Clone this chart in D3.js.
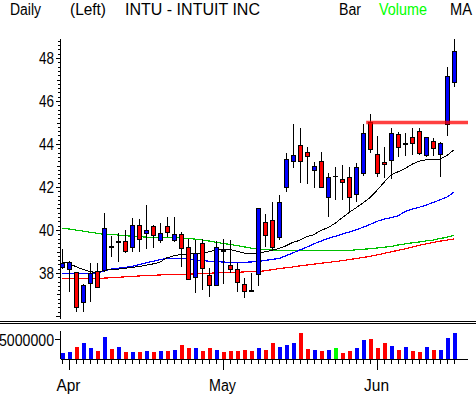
<!DOCTYPE html>
<html><head><meta charset="utf-8">
<script src="https://cdn.jsdelivr.net/npm/d3@7/dist/d3.min.js"></script>
<style>
html,body{margin:0;padding:0;background:#fff;}
svg{display:block;}
text{font-family:"Liberation Sans",Arial,sans-serif;}
</style></head>
<body>
<script>
// ---- data ----
const opens  = [38.30,38.17,38.03,36.64,37.52,38.10,38.14,39.25,39.45,39.49,39.19,40.23,39.85,40.19,39.53,40.19,39.53,39.81,39.22,37.83,39.38,37.90,37.44,39.06,38.37,38.17,37.47,37.22,37.95,40.36,40.47,39.69,41.99,43.22,43.95,43.61,42.79,43.21,41.55,42.51,42.36,42.45,41.67,42.64,45.04,43.52,43.18,43.26,44.47,44.01,44.31,44.62,43.49,44.15,43.53,44.93,46.87];
const highs  = [39.10,38.57,38.05,37.50,38.45,38.48,40.80,39.70,39.85,40.00,40.54,40.50,41.16,40.25,40.31,40.62,40.62,39.92,39.60,39.53,39.60,38.22,39.50,39.60,39.55,38.45,37.75,37.98,41.00,40.74,41.32,41.63,43.57,44.93,44.73,43.88,43.18,43.64,42.64,42.95,43.02,42.95,43.10,44.93,45.40,44.37,43.88,44.73,44.57,44.50,44.73,44.73,44.34,44.30,44.10,47.60,48.88];
const lows   = [38.20,37.13,36.20,36.20,36.67,37.30,38.06,38.76,38.53,38.94,38.99,38.99,39.10,39.15,39.38,39.69,39.46,38.29,37.70,37.06,37.20,36.90,37.40,37.50,37.98,37.13,36.82,37.15,37.40,39.22,39.07,39.53,41.78,42.87,42.17,42.14,41.94,41.94,40.59,41.40,41.40,40.85,41.32,42.51,43.57,42.48,42.40,42.36,43.41,43.44,43.49,43.49,43.41,43.45,42.48,44.37,46.67];
const closes = [38.45,38.50,36.43,37.44,37.98,37.33,40.08,39.20,39.50,39.04,40.23,39.60,40.00,39.77,39.88,39.92,39.81,39.15,37.70,38.91,38.22,37.44,39.19,39.02,38.19,37.57,37.18,37.18,41.00,39.77,39.19,41.32,43.29,43.49,43.22,43.46,42.98,42.02,42.45,42.51,42.25,41.52,42.92,44.50,43.75,42.64,43.07,44.50,43.88,44.05,44.06,43.60,44.31,43.80,44.06,47.16,48.33];
const volumes = [1.5,1.75,3.1,3.9,2.8,2.0,5.4,2.5,3.1,1.75,1.75,1.75,2.0,1.75,2.0,2.0,2.3,3.6,2.8,2.8,2.0,2.8,2.3,1.75,2.0,2.0,2.3,2.0,2.8,2.3,4.1,3.1,3.6,3.9,6.6,2.5,2.3,2.0,2.3,2.8,1.5,2.0,2.8,4.8,5.1,2.8,4.1,3.3,2.3,3.1,2.0,1.75,3.1,2.3,2.3,5.2,6.6].map(v=>v*1e6);
const maShort = [38.50,38.45,38.30,38.17,38.07,38.01,38.12,38.16,38.18,38.22,38.26,38.30,38.36,38.42,38.50,38.70,38.80,38.86,38.88,38.90,38.92,38.98,39.07,39.10,39.10,39.02,38.93,38.92,38.92,38.98,39.05,39.14,39.26,39.42,39.52,39.69,39.78,39.98,40.10,40.30,40.55,40.80,41.02,41.25,41.50,41.83,42.20,42.55,42.70,42.85,43.05,43.20,43.26,43.26,43.30,43.45,43.72];
const maMid   = [37.98,37.98,37.98,37.98,37.99,38.00,38.08,38.18,38.22,38.26,38.30,38.38,38.47,38.54,38.62,38.68,38.68,38.68,38.67,38.62,38.58,38.55,38.53,38.51,38.50,38.50,38.50,38.51,38.54,38.58,38.63,38.67,38.80,38.93,39.07,39.20,39.35,39.48,39.60,39.70,39.80,39.90,40.00,40.12,40.25,40.40,40.50,40.57,40.65,40.85,40.97,41.05,41.15,41.27,41.40,41.52,41.75];
const maLong  = [40.08,40.05,40.00,39.95,39.90,39.85,39.80,39.79,39.77,39.74,39.71,39.69,39.67,39.66,39.66,39.66,39.65,39.63,39.61,39.58,39.54,39.49,39.43,39.38,39.33,39.28,39.22,39.16,39.12,39.09,39.07,39.06,39.05,39.05,39.05,39.05,39.04,39.04,39.04,39.04,39.03,39.03,39.08,39.10,39.13,39.16,39.20,39.23,39.30,39.35,39.40,39.44,39.49,39.53,39.60,39.66,39.75];
const maLonger= [37.75,37.75,37.75,37.75,37.75,37.75,37.76,37.78,37.80,37.82,37.84,37.86,37.88,37.89,37.91,37.92,37.93,37.94,37.95,37.96,37.97,37.99,38.00,38.01,38.02,38.03,38.05,38.06,38.07,38.10,38.15,38.20,38.24,38.28,38.33,38.37,38.41,38.45,38.49,38.53,38.57,38.62,38.67,38.72,38.77,38.84,38.91,38.98,39.05,39.12,39.20,39.28,39.35,39.42,39.48,39.53,39.58];
const priceTickLabels = [38,40,42,44,46,48];
const volumeTickLabels = [5000000];
const monthLabels = ["Apr","May","Jun"];
const monthStartIndex = [1,23,45];
const resistanceLevel = 45.0;
const resistanceStart = 44;
const headerLeft = ["Daily","(Left)","INTU - INTUIT INC"];
const headerRight = ["Bar","Volume","MA"];

// ---- layout ----
const W = 476, H = 395;
const svg = d3.select("body").append("svg").attr("width",W).attr("height",H);

const n = closes.length;
const x = d3.scaleLinear().domain([0, n-1]).range([61.7, 453.7]);
const y = d3.scaleLinear().domain([36, 48]).range([316, 58]);
const yv = d3.scaleLinear().domain([0, 5e6]).range([359, 339]);
const AX = 60.5;

const colorOf = i => closes[i] > opens[i] ? "#0000ff" : (closes[i] < opens[i] ? "#ff0000" : "#00ff00");

// header
const hl = [[10,31],[70,36],[125,135]];
headerLeft.forEach((t,k)=>svg.append("text").attr("x",hl[k][0]).attr("y",15).attr("font-size",16)
  .attr("textLength",hl[k][1]).attr("lengthAdjust","spacingAndGlyphs").attr("fill","#000").text(t));
const hr = [[339,22,"#000"],[379,48,"#00ff00"],[450,22,"#000"]];
headerRight.forEach((t,k)=>svg.append("text").attr("x",hr[k][0]).attr("y",15).attr("font-size",16)
  .attr("textLength",hr[k][1]).attr("lengthAdjust","spacingAndGlyphs").attr("fill",hr[k][2]).text(t));

// price axis
const gp = svg.append("g").attr("shape-rendering","crispEdges");
gp.append("line").attr("x1",AX).attr("x2",AX).attr("y1",39).attr("y2",319).attr("stroke","#000");
const minorTicks = d3.range(180, 245).map(v=>v/5);
minorTicks.forEach(v=>{
  const isMajor = Math.abs(v - Math.round(v)) < 1e-6 && Math.round(v)%2===0;
  const isInt = Math.abs(v - Math.round(v)) < 1e-6;
  const len = isMajor ? 5 : (isInt ? 4 : 3);
  const yy = Math.round(y(v)) + 0.5;
  gp.append("line").attr("x1",AX-len).attr("x2",AX).attr("y1",yy).attr("y2",yy).attr("stroke","#000");
});
priceTickLabels.forEach(v=>{
  svg.append("text").attr("x",54).attr("y",y(v)+6).attr("text-anchor","end").attr("font-size",16)
    .attr("textLength",15).attr("lengthAdjust","spacingAndGlyphs").text(v);
});

// moving averages
const line = d3.line().x((d,i)=>x(i)).y(d=>y(d));
[[maLonger,"#ff0000",1.2],[maLong,"#00c000",1.2],[maMid,"#0000ff",1.2],[maShort,"#000000",1]].forEach(([arr,c,w])=>{
  svg.append("path").attr("d",line(arr)).attr("fill","none").attr("stroke",c).attr("stroke-width",w)
    .attr("shape-rendering","crispEdges");
});

// candles
const clip = svg.append("clipPath").attr("id","pc").append("rect").attr("x",61).attr("y",0).attr("width",420).attr("height",321);
const gc = svg.append("g").attr("clip-path","url(#pc)").attr("shape-rendering","crispEdges");
d3.range(n).forEach(i=>{
  const cx = Math.round(x(i));
  gc.append("line").attr("x1",cx+0.5).attr("x2",cx+0.5).attr("y1",y(highs[i])).attr("y2",y(lows[i])).attr("stroke","#000");
  const top = Math.round(y(Math.max(opens[i],closes[i])));
  const bot = Math.round(y(Math.min(opens[i],closes[i])));
  gc.append("rect").attr("x",cx-1.5).attr("y",top+0.5).attr("width",4).attr("height",Math.max(bot-top,0.01))
    .attr("fill",colorOf(i)).attr("stroke","#000");
});

// resistance line
svg.append("line").attr("x1",x(resistanceStart)-3.5).attr("x2",468).attr("y1",y(resistanceLevel)).attr("y2",y(resistanceLevel))
  .attr("stroke","#ff0000").attr("stroke-width",3.5).attr("stroke-opacity",0.75);

// separator
const gs = svg.append("g").attr("shape-rendering","crispEdges");
gs.append("line").attr("x1",0).attr("x2",W).attr("y1",321.5).attr("y2",321.5).attr("stroke","#000");
gs.append("line").attr("x1",0).attr("x2",W).attr("y1",323.5).attr("y2",323.5).attr("stroke","#000");

// volume panel
const gv = svg.append("g").attr("shape-rendering","crispEdges");
gv.append("line").attr("x1",AX).attr("x2",AX).attr("y1",331).attr("y2",359).attr("stroke","#000");
gv.append("line").attr("x1",AX).attr("x2",468).attr("y1",359.5).attr("y2",359.5).attr("stroke","#000");
volumeTickLabels.forEach(v=>{
  const yy = Math.round(yv(v))+0.5;
  gv.append("line").attr("x1",AX-6).attr("x2",AX).attr("y1",yy).attr("y2",yy).attr("stroke","#000");
  svg.append("text").attr("x",54).attr("y",yy+6).attr("text-anchor","end").attr("font-size",16)
    .attr("textLength",55).attr("lengthAdjust","spacingAndGlyphs").text(v);
});
d3.range(n).forEach(i=>{
  const cx = Math.round(x(i));
  const top = Math.round(yv(volumes[i]));
  gv.append("rect").attr("x",cx-1).attr("y",top).attr("width",4).attr("height",359-top).attr("fill",colorOf(i));
  gv.append("line").attr("x1",cx+0.5).attr("x2",cx+0.5).attr("y1",360).attr("y2",364).attr("stroke","#000");
});
monthStartIndex.forEach((mi,k)=>{
  const cx = Math.round(x(mi))+0.5;
  gv.append("line").attr("x1",cx).attr("x2",cx).attr("y1",360).attr("y2",370).attr("stroke","#000");
  svg.append("text").attr("x",cx-1).attr("y",391).attr("text-anchor","middle").attr("font-size",16)
    .attr("textLength",[24,27,25][k]).attr("lengthAdjust","spacingAndGlyphs").text(monthLabels[k]);
});
</script>
</body></html>
